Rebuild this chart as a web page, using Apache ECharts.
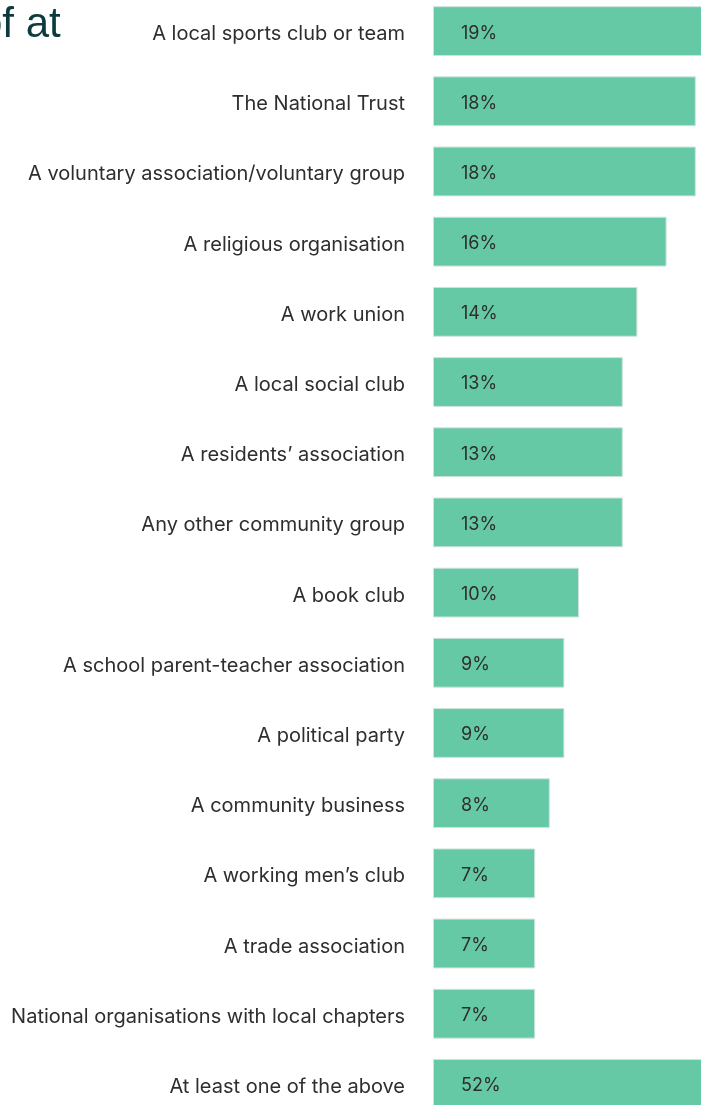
<!DOCTYPE html>
<html>
<head>
<meta charset="utf-8">
<script src="https://cdn.jsdelivr.net/npm/echarts@6/dist/echarts.min.js"></script>
<style>
  html, body { margin: 0; padding: 0; background: #ffffff; }
  #chart { width: 701px; height: 1105px; }
</style>
</head>
<body>
<div id="chart"></div>
<script>
// Share of people involved in each kind of group (percent)
const categories = [
  'A local sports club or team',
  'The National Trust',
  'A voluntary association/voluntary group',
  'A religious organisation',
  'A work union',
  'A local social club',
  'A residents\u2019 association',
  'Any other community group',
  'A book club',
  'A school parent-teacher association',
  'A political party',
  'A community business',
  'A working men\u2019s club',
  'A trade association',
  'National organisations with local chapters',
  'At least one of the above'
];
const values = [19, 18, 18, 16, 14, 13, 13, 13, 10, 9, 9, 8, 7, 7, 7, 52];

const chart = echarts.init(document.getElementById('chart'), null, { renderer: 'canvas' });

chart.setOption({
  animation: false,
  backgroundColor: '#ffffff',
  graphic: [{
    type: 'text',
    left: -21,
    top: 4,
    style: {
      text: 'of at',
      font: '42px "Liberation Sans", Arial, sans-serif',
      fill: '#0d3a3c'
    }
  }],
  grid: {
    left: 433,
    top: -4,
    width: 876,
    height: 1123,
    outerBoundsMode: 'none',
    containLabel: false
  },
  xAxis: {
    type: 'value',
    min: 0,
    max: 60,
    show: false
  },
  yAxis: {
    type: 'category',
    data: categories,
    inverse: true,
    axisLine: { show: false },
    axisTick: { show: false },
    splitLine: { show: false },
    axisLabel: {
      margin: 28,
      verticalAlign: 'top',
      lineHeight: 6,
      fontFamily: 'Inter, "Noto Sans", sans-serif',
      fontSize: 20,
      color: '#2e2e2e'
    }
  },
  series: [{
    type: 'bar',
    data: values,
    barCategoryGap: '29%',
    itemStyle: {
      color: '#66c9a6',
      borderColor: '#cfe3dc',
      borderWidth: 1
    },
    label: {
      show: true,
      position: 'insideLeft',
      distance: 28,
      offset: [0, 2],
      formatter: '{c}%',
      fontFamily: 'Inter, "Noto Sans", sans-serif',
      fontSize: 18,
      color: '#2e2e2e'
    }
  }]
});
</script>
</body>
</html>
